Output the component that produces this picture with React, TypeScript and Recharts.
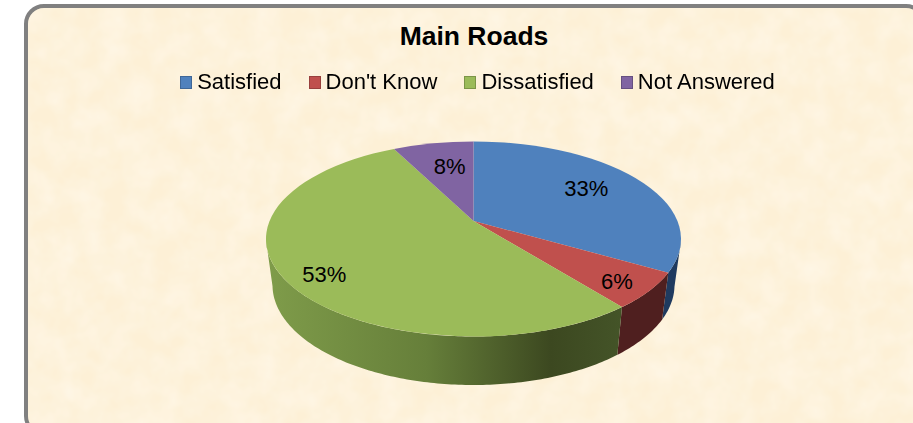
import { PieChart, Pie, Legend } from "recharts";

const categories = ["Satisfied", "Don't Know", "Dissatisfied", "Not Answered"];
const shares = [33.3, 6, 53.2, 7.5];
const colors = ["#4f81bd", "#c0504d", "#9bbb59", "#8064a2"];
const wallColors = ["#1f3a5f", "#4f1f1f", "url(#greenWall)", "#3f3151"];

const table = categories.map((name, i) => ({
  name,
  value: shares[i],
  fill: colors[i],
  wall: wallColors[i],
}));

// the picture is a tilted pie drawn in perspective: top face and bottom rim are ellipses
const RX = 207.5;
const RY = 97.5;
const APEX_SHIFT = 0.185; // apex sits above the ellipse centre
const BOTTOM_RX = 201;
const BOTTOM_RY = 100;
const BOTTOM_DY = 46;
const RAD = Math.PI / 180;

// true pie position on the unit disk -> position on the tilted ellipse
function warp(angle: number, r = 1) {
  const x = r * Math.cos(angle * RAD);
  const y = r * Math.sin(angle * RAD);
  const d = 1 + APEX_SHIFT * y;
  return {
    x: (x * Math.sqrt(1 - APEX_SHIFT * APEX_SHIFT)) / d,
    y: (y + APEX_SHIFT) / d,
  };
}

function Slice3D(props: any) {
  const { cx, cy, startAngle, endAngle, fill, payload } = props;
  const a = warp(startAngle);
  const b = warp(endAngle);
  const ax = cx + a.x * RX;
  const ay = cy - a.y * RY;
  const bx = cx + b.x * RX;
  const by = cy - b.y * RY;
  const apex = warp(0, 0);
  const large = Math.atan2(b.y, b.x) - Math.atan2(a.y, a.x);
  const sweepDeg = ((-large / RAD) % 360 + 360) % 360;
  const face = `M${cx},${cy - apex.y * RY}L${ax},${ay}A${RX},${RY} 0 ${sweepDeg > 180 ? 1 : 0} 1 ${bx},${by}Z`;

  // side wall: only the part of the rim below the horizontal is visible
  const ta = Math.atan2(a.y, a.x) / RAD;
  const tb = Math.atan2(b.y, b.x) / RAD;
  const samples: number[] = [];
  let t0 = ta;
  let t1 = tb;
  if (t1 > t0) t1 -= 360;
  for (let t = t0; t >= t1; t -= 1) {
    const n = ((t % 360) + 360) % 360;
    if (n >= 180) samples.push(t);
  }
  samples.push(t1);
  const visible = samples.filter((t) => (((t % 360) + 360) % 360) >= 180);
  let wall = "";
  if (visible.length > 1) {
    const top = visible.map((t) => `${cx + Math.cos(t * RAD) * RX},${cy - Math.sin(t * RAD) * RY}`);
    const bottom = visible
      .map((t) => `${cx + Math.cos(t * RAD) * BOTTOM_RX},${cy + BOTTOM_DY - Math.sin(t * RAD) * BOTTOM_RY}`)
      .reverse();
    wall = `M${top.join("L")}L${bottom.join("L")}Z`;
  }
  return (
    <g>
      {wall && <path d={wall} fill={payload?.wall} />}
      <path d={face} fill={fill} />
    </g>
  );
}

const labelRadius = [0.75, 0.85, 0.82, 0.68];
const labelNudge = [[-11, 1], [-3, 2], [4, 8], [5, 1]];

function renderLabel(props: any) {
  const { cx, cy, midAngle, index, value } = props;
  const p = warp(midAngle, labelRadius[index]);
  return (
    <text
      x={cx + p.x * RX + labelNudge[index][0]}
      y={cy - p.y * RY + labelNudge[index][1]}
      textAnchor="middle"
      dominantBaseline="central"
      fontSize={22}
      fill="#000"
    >
      {Math.round(value)}%
    </text>
  );
}

function LegendRow() {
  return (
    <div style={{ display: "flex", justifyContent: "center", gap: 27, fontSize: 22, lineHeight: "26px" }}>
      {table.map((d) => (
        <span key={d.name} style={{ display: "flex", alignItems: "center", gap: 5 }}>
          <span
            style={{
              width: 12,
              height: 13,
              boxSizing: "border-box",
              background: d.fill,
              border: "1px solid rgba(0,0,0,0.2)",
            }}
          />
          {d.name}
        </span>
      ))}
    </div>
  );
}

export default function App() {
  return (
    <div
      style={{
        position: "absolute",
        left: 0,
        top: 0,
        width: 913,
        height: 423,
        overflow: "hidden",
        background: "#fff",
        fontFamily: "'Liberation Sans', Arial, sans-serif",
      }}
    >
      <div style={{ position: "absolute", left: 0, top: 0, width: 913, height: 423, filter: "blur(0.45px)" }}>
        <div
          style={{
            position: "absolute",
            left: 24,
            top: 4,
            width: 902,
            height: 432,
            boxSizing: "border-box",
            border: "4px solid #808080",
            borderRadius: 20,
            background: "#fdf0d6",
            overflow: "hidden",
          }}
        >
          <svg width={902} height={432} style={{ position: "absolute", left: 0, top: 0 }}>
            <filter id="parchment">
              <feTurbulence type="fractalNoise" baseFrequency="0.04" numOctaves={3} seed={4} />
              <feColorMatrix values="0 0 0 0 1  0 0 0 0 0.965  0 0 0 0 0.89  0.8 0 0 0 -0.22" />
            </filter>
            <rect width={902} height={432} filter="url(#parchment)" />
          </svg>
        </div>
        <PieChart width={913} height={423} style={{ position: "absolute", left: 0, top: 0 }}>
          <defs>
            <linearGradient id="greenWall" x1="0" y1="0" x2="1" y2="0">
              <stop offset="0" stopColor="#7f9c4a" />
              <stop offset="0.45" stopColor="#667f3a" />
              <stop offset="0.8" stopColor="#3c4820" />
              <stop offset="1" stopColor="#445428" />
            </linearGradient>
          </defs>
          <text x={474} y={36} textAnchor="middle" dominantBaseline="central" fontSize={26.5} fontWeight="bold" fill="#000">
            Main Roads
          </text>
          <Legend
            verticalAlign="top"
            content={<LegendRow />}
            wrapperStyle={{ position: "absolute", top: 69, left: 0, width: 955 }}
          />
          <Pie
            data={table}
            dataKey="value"
            nameKey="name"
            cx={468.5}
            cy={208}
            outerRadius={RX}
            startAngle={90}
            endAngle={-270}
            stroke="none"
            isAnimationActive={false}
            shape={Slice3D}
            inactiveShape={Slice3D}
            label={renderLabel}
            labelLine={false}
          />
        </PieChart>
      </div>
    </div>
  );
}
